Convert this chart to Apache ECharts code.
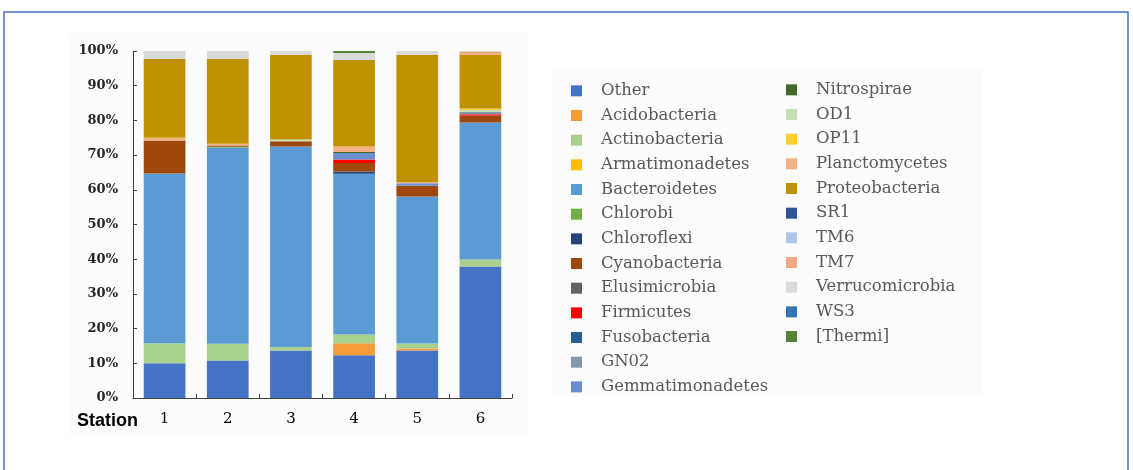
<!DOCTYPE html>
<html>
<head>
<meta charset="utf-8">
<script src="https://cdn.jsdelivr.net/npm/echarts@6/dist/echarts.min.js"></script>
<style>html,body{margin:0;padding:0;background:#fff;}#c{width:1133px;height:470px;}</style>
</head>
<body>
<div id="c"></div>
<script>
// ---- data (percent of reads per station) ----
const stations = ['1', '2', '3', '4', '5', '6'];
const yTicks = [0, 10, 20, 30, 40, 50, 60, 70, 80, 90, 100];

const other            = [10.0, 10.8, 13.7, 12.3, 13.7, 37.9];
const acidobacteria    = [0, 0, 0, 3.5, 0.6, 0];
const actinobacteria   = [5.8, 4.8, 1.0, 2.5, 1.4, 2.0];
const armatimonadetes  = [0, 0, 0, 0, 0, 0];
const bacteroidetes    = [48.9, 56.6, 57.8, 46.3, 42.4, 39.5];
const chlorobi         = [0, 0.2, 0, 0, 0, 0];
const chloroflexi      = [0, 0, 0, 0.7, 0, 0];
const cyanobacteria    = [9.5, 0.4, 1.5, 2.4, 3.1, 2.0];
const elusimicrobia    = [0, 0, 0, 0, 0, 0];
const firmicutes       = [0, 0, 0, 1.0, 0, 0.4];
const fusobacteria     = [0, 0, 0, 0, 0, 0];
const gn02             = [0, 0, 0, 0, 0, 0.7];
const gemmatimonadetes = [0, 0, 0, 1.9, 0.7, 0];
const nitrospirae      = [0, 0, 0, 0.3, 0, 0];
const od1              = [0, 0, 0.5, 0, 0, 0.5];
const op11             = [0, 0, 0, 0, 0, 0.4];
const planctomycetes   = [0.8, 0.5, 0, 1.6, 0.3, 0];
const proteobacteria   = [22.7, 24.5, 24.4, 25.0, 36.7, 15.5];
const sr1              = [0, 0, 0, 0, 0, 0];
const tm6              = [0, 0, 0, 0, 0, 0];
const tm7              = [0, 0, 0, 0, 0, 0.8];
const verrucomicrobia  = [2.3, 2.2, 1.1, 1.9, 1.1, 0.3];
const ws3              = [0, 0, 0, 0, 0, 0];
const thermi           = [0, 0, 0, 0.6, 0, 0];

const phyla = [
  ['Other', other, '#4472c4'],
  ['Acidobacteria', acidobacteria, '#f79a3a'],
  ['Actinobacteria', actinobacteria, '#a9d18e'],
  ['Armatimonadetes', armatimonadetes, '#ffc000'],
  ['Bacteroidetes', bacteroidetes, '#5b9bd5'],
  ['Chlorobi', chlorobi, '#70ad47'],
  ['Chloroflexi', chloroflexi, '#264478'],
  ['Cyanobacteria', cyanobacteria, '#9e480e'],
  ['Elusimicrobia', elusimicrobia, '#636363'],
  ['Firmicutes', firmicutes, '#ff0000'],
  ['Fusobacteria', fusobacteria, '#255e91'],
  ['GN02', gn02, '#8497b0'],
  ['Gemmatimonadetes', gemmatimonadetes, '#698ed0'],
  ['Nitrospirae', nitrospirae, '#43682b'],
  ['OD1', od1, '#c5e0b4'],
  ['OP11', op11, '#ffcd33'],
  ['Planctomycetes', planctomycetes, '#f4b183'],
  ['Proteobacteria', proteobacteria, '#bf9000'],
  ['SR1', sr1, '#2f5597'],
  ['TM6', tm6, '#adc5e7'],
  ['TM7', tm7, '#f1a983'],
  ['Verrucomicrobia', verrucomicrobia, '#d9d9d9'],
  ['WS3', ws3, '#2e75b6'],
  ['[Thermi]', thermi, '#548235']
];

const chart = echarts.init(document.getElementById('c'), null, {renderer: 'canvas'});
const legendText = {fontFamily: 'DejaVu Serif', fontSize: 16.5, color: '#595959', lineHeight: 24.67, padding: [0, 0, 0, 14]};
const legendCommon = {
  orient: 'vertical', icon: 'rect', itemWidth: 11, itemHeight: 11, itemGap: 0,
  textStyle: legendText, selectedMode: false, padding: 0
};

chart.setOption({
  animation: false,
  backgroundColor: '#ffffff',
  graphic: [
    {type: 'rect', shape: {x: 4, y: 12, width: 1124, height: 480}, style: {fill: 'none', stroke: '#4472c4', lineWidth: 1.5}, z: 0},
    {type: 'rect', shape: {x: 70, y: 33, width: 457, height: 404}, style: {fill: '#fcfcfc'}, z: -1},
    {type: 'rect', shape: {x: 552, y: 68, width: 430, height: 329}, style: {fill: '#fcfcfc'}, z: -1},
    {type: 'text', left: 77, top: 412, style: {text: 'Station', fontFamily: 'Liberation Sans', fontWeight: 'bold', fontSize: 18, fill: '#000'}}
  ],
  legend: [
    Object.assign({left: 571, top: 78.5, data: phyla.slice(0, 13).map(p => p[0])}, legendCommon),
    Object.assign({left: 786, top: 77.5, data: phyla.slice(13).map(p => p[0])}, legendCommon)
  ],
  grid: {left: 133, right: 621, top: 51, bottom: 72, containLabel: false},
  xAxis: {
    type: 'category', data: stations,
    axisLine: {lineStyle: {color: '#404040', width: 1}},
    axisTick: {show: true, inside: true, length: 4, lineStyle: {color: '#404040'}},
    axisLabel: {fontFamily: 'DejaVu Serif', fontSize: 15, color: '#000', margin: 14}
  },
  yAxis: {
    type: 'value', min: 0, max: 100, interval: 10,
    axisLine: {show: true, lineStyle: {color: '#404040', width: 1}},
    axisTick: {show: true, inside: true, length: 4, lineStyle: {color: '#404040'}},
    splitLine: {show: false},
    axisLabel: {
      fontFamily: 'DejaVu Serif', fontWeight: 'bold', fontSize: 13, color: '#262626', margin: 15,
      formatter: v => (yTicks.indexOf(v) >= 0 ? v + '%' : '')
    }
  },
  series: phyla.map(p => ({
    name: p[0], type: 'bar', stack: 'all', data: p[1],
    barCategoryGap: '34%',
    itemStyle: {color: p[2]},
    emphasis: {disabled: true}
  }))
});
</script>
</body>
</html>
